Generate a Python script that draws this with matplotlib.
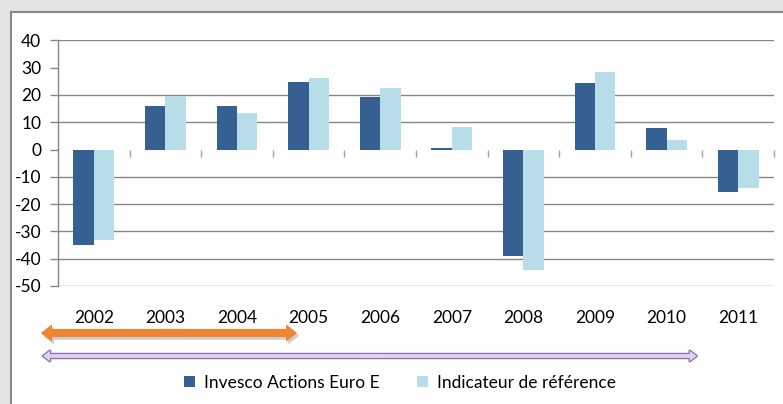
import matplotlib
matplotlib.use("Agg")
import matplotlib.pyplot as plt
import matplotlib.patches as mpatches
import matplotlib.transforms as mtransforms
import matplotlib.patheffects as pe
import numpy as np

# ---- data ----
years = ["2002", "2003", "2004", "2005", "2006", "2007", "2008", "2009", "2010", "2011"]
fund = [-35.0, 16.1, 16.1, 24.8, 19.3, 0.4, -38.9, 24.5, 7.7, -15.6]
benchmark = [-33.1, 19.7, 13.5, 26.3, 22.6, 8.4, -44.0, 28.5, 3.3, -14.1]
series_names = ["Invesco Actions Euro E", "Indicateur de référence"]
y_ticks = [40, 30, 20, 10, 0, -10, -20, -30, -40, -50]
grid_levels = [40, 20, 10, -10, -20, -30, -40, -50]
# arrow spans in category units
orange_span = [-0.74, 2.84]
purple_span = [-0.71, 8.42]

plt.rcParams['font.family'] = ['Lato', 'DejaVu Sans']

W, H = 783, 404
fig = plt.figure(figsize=(W / 100, H / 100), dpi=100)
fig.patch.set_facecolor("white")

# outer frame
gray = "#e4e4e4"
fig.patches.append(mpatches.Rectangle((0, 1 - 11.5 / H), 1, 11.5 / H, transform=fig.transFigure,
                                      facecolor=gray, edgecolor="none", zorder=0))
fig.patches.append(mpatches.Rectangle((0, 0), 10.5 / W, 1, transform=fig.transFigure,
                                      facecolor=gray, edgecolor="none", zorder=0))
fig.lines.append(plt.Line2D([10.5 / W, 1], [1 - 11.5 / H, 1 - 11.5 / H], transform=fig.transFigure,
                            color="#8a8a8a", lw=1.5))
fig.lines.append(plt.Line2D([10.5 / W, 10.5 / W], [0, 1 - 11.5 / H], transform=fig.transFigure,
                            color="#8a8a8a", lw=1.5))

ax = fig.add_axes([58 / W, 1 - 286 / H, (774 - 58) / W, (286 - 40.3) / H])
ax.set_facecolor("none")

x = np.arange(len(years))
bw = 0.285
dark = "#366092"
light = "#b7dde8"
ax.bar(x - bw / 2, fund, bw, color=dark, label=series_names[0], zorder=3, edgecolor="none")
ax.bar(x + bw / 2, benchmark, bw, color=light, label=series_names[1], zorder=3, edgecolor="none")

ax.set_xlim(-0.5, len(years) - 0.5)
ax.set_ylim(-50, 40)
ax.hlines(grid_levels, -0.5, len(years) - 0.5, colors="#868686", lw=1.0, zorder=1)

ax.set_yticks(y_ticks)
ax.set_yticklabels([str(v) for v in y_ticks], fontsize=12.5)
ax.tick_params(axis="y", direction="out", length=6, width=1, color="#868686", pad=6)

# x axis at zero with boundary tick marks
ax.spines["bottom"].set_position(("data", 0))
ax.spines["bottom"].set_visible(False)
ax.set_xticks(np.arange(len(years)) + 0.5)
ax.set_xticklabels([])
ax.tick_params(axis="x", direction="out", length=5, width=1, color="#a0a0a0")

for s in ["top", "right"]:
    ax.spines[s].set_visible(False)
ax.spines["left"].set_color("#868686")
ax.spines["left"].set_linewidth(1.0)

sec = ax.secondary_xaxis("bottom")
sec.set_xticks(x)
sec.set_xticklabels(years, fontsize=12.5)
sec.tick_params(length=0, pad=17)
sec.spines["bottom"].set_visible(False)

# arrows
blend = mtransforms.blended_transform_factory(ax.transData, fig.transFigure)

def double_arrow(span, yfig, tail, hw, hl, face, edge=None, elw=0, shadow=False):
    mid = (span[0] + span[1]) / 2
    style = f"simple,head_length={hl},head_width={hw},tail_width={tail}"
    passes = []  # (overlap, kwargs, effects)
    if shadow:
        passes.append((0.0, dict(facecolor=face, edgecolor="none", linewidth=0),
                       [pe.SimplePatchShadow(offset=(1.5, -2), shadow_rgbFace="#b0b0b0", alpha=0.6)]))
    if edge is not None:
        passes.append((0.0, dict(facecolor=edge, edgecolor=edge, linewidth=elw), None))
    passes.append((0.15, dict(facecolor=face, edgecolor="none", linewidth=0), None))
    for overlap, kw, effects in passes:
        for end in span:
            start = mid + (overlap if end < mid else -overlap)
            p = mpatches.FancyArrowPatch((start, yfig), (end, yfig), transform=blend,
                                         arrowstyle=style, mutation_scale=1,
                                         shrinkA=0, shrinkB=0, zorder=5, **kw)
            if effects:
                p.set_path_effects(effects)
            fig.patches.append(p)

double_arrow(orange_span, 1 - 333 / H, 5.8, 12.5, 8, "#ef8530", shadow=True)
double_arrow(purple_span, 1 - 356 / H, 2.8, 7.5, 5, "#ddd3ee", edge="#8b6fb5", elw=1.8)

leg = fig.legend(loc="center", bbox_to_anchor=(400 / W, 1 - 383 / H), ncol=2, frameon=False,
                 fontsize=12.5, handlelength=0.6, handleheight=0.6, handletextpad=0.5,
                 columnspacing=2.2)

fig.savefig("out.png", dpi=100, facecolor=fig.get_facecolor())
